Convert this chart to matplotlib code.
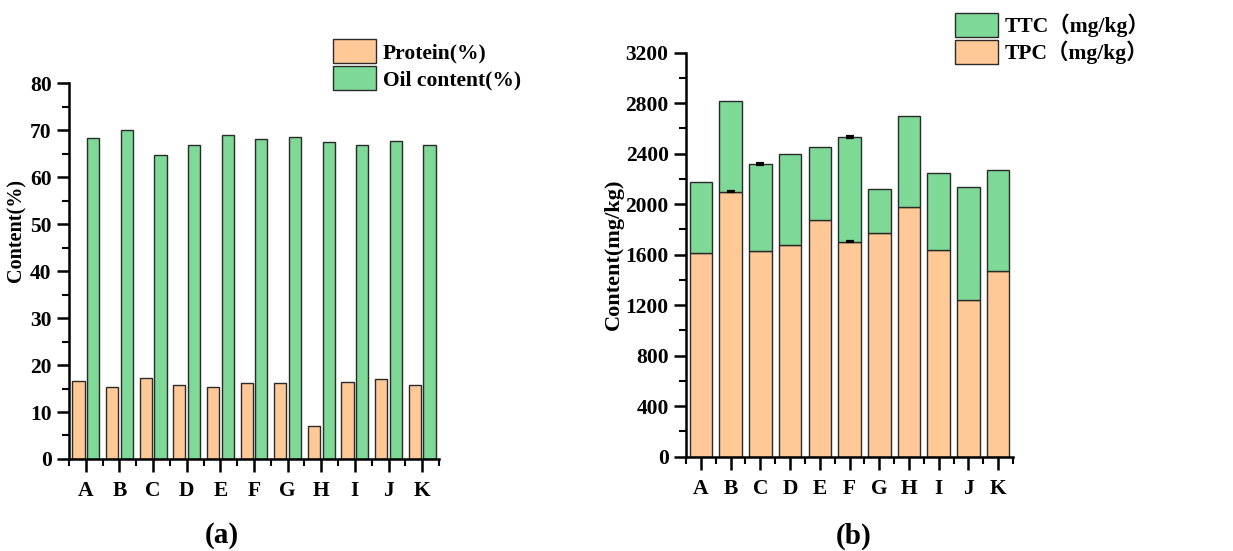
import matplotlib.pyplot as plt
from matplotlib.patches import Patch
from matplotlib.ticker import MultipleLocator
import numpy as np

samples = ['A', 'B', 'C', 'D', 'E', 'F', 'G', 'H', 'I', 'J', 'K']
protein = [16.7, 15.4, 17.2, 15.7, 15.4, 16.1, 16.2, 7.1, 16.4, 17.0, 15.7]
oil = [68.3, 70.0, 64.7, 66.9, 68.9, 68.1, 68.6, 67.4, 66.9, 67.8, 66.9]

tpc = [1610, 2100, 1628, 1678, 1878, 1704, 1768, 1975, 1640, 1245, 1468]
ttc = [565, 715, 692, 723, 578, 830, 355, 722, 605, 892, 803]
tpc_err = [0, 5, 0, 0, 0, 6, 0, 0, 0, 0, 0]
ttc_err = [0, 0, 6, 0, 0, 6, 0, 0, 0, 0, 0]

orange = '#FFC997'
green = '#7ED896'
edge = '#2a2a2a'

plt.rcParams['font.family'] = ['Liberation Serif', 'Noto Sans CJK SC']
plt.rcParams['font.weight'] = 'bold'

fig = plt.figure(figsize=(12.33, 5.51), dpi=100)
x = np.arange(len(samples))


def style_axis(ax):
    for s in ['top', 'right']:
        ax.spines[s].set_visible(False)
    for s in ['left', 'bottom']:
        ax.spines[s].set_linewidth(1.8)
    ax.tick_params(which='major', direction='out', length=9, width=1.8, labelsize=15.5)
    ax.tick_params(which='minor', direction='out', length=5, width=1.5)
    ax.tick_params(axis='x', pad=7)
    ax.set_xticks(x)
    ax.set_xticklabels(samples, fontweight='bold')
    ax.xaxis.set_minor_locator(MultipleLocator(1, offset=0.5))
    ax.set_xlim(-0.5, 10.5)
    for lab in ax.get_yticklabels():
        lab.set_fontweight('bold')


leg_kw = dict(loc='upper left', frameon=False, prop={'size': 15.5, 'weight': 'bold'},
              handlelength=2.0, handleheight=1.3, handletextpad=0.3,
              labelspacing=0.15, borderaxespad=0, borderpad=0)

# (a)
ax1 = fig.add_axes([0.056, 0.167, 0.300, 0.682])
w = 0.36
ax1.bar(x - 0.22, protein, w, color=orange, edgecolor=edge, linewidth=1)
ax1.bar(x + 0.22, oil, w, color=green, edgecolor=edge, linewidth=1)
ax1.set_ylim(0, 80)
ax1.yaxis.set_major_locator(MultipleLocator(10))
ax1.yaxis.set_minor_locator(MultipleLocator(5))
style_axis(ax1)
ax1.set_ylabel('Content(%)', fontsize=14.5, fontweight='bold')
ax1.yaxis.set_label_coords(-0.115, 0.609)
h1 = [Patch(facecolor=orange, edgecolor=edge, label='Protein(%)'),
      Patch(facecolor=green, edgecolor=edge, label='Oil content(%)')]
ax1.legend(handles=h1, bbox_to_anchor=(0.714, 1.117), **leg_kw)
fig.text(0.180, 0.029, '(a)', fontsize=21, fontweight='bold', ha='center', va='center')

# (b)
ax2 = fig.add_axes([0.5564, 0.1711, 0.2652, 0.7333])
w2 = 0.76
ax2.bar(x, tpc, w2, color=orange, edgecolor=edge, linewidth=1)
ax2.bar(x, ttc, w2, bottom=tpc, color=green, edgecolor=edge, linewidth=1)
tops = np.array(tpc) + np.array(ttc)
for i in range(len(samples)):
    if tpc_err[i] > 0:
        ax2.errorbar(x[i], tpc[i], yerr=tpc_err[i], color='black', capsize=3, elinewidth=1, capthick=1.6)
    if ttc_err[i] > 0:
        ax2.errorbar(x[i], tops[i], yerr=ttc_err[i], color='black', capsize=3, elinewidth=1, capthick=1.6)
ax2.set_ylim(0, 3200)
ax2.yaxis.set_major_locator(MultipleLocator(400))
ax2.yaxis.set_minor_locator(MultipleLocator(200))
style_axis(ax2)
ax2.set_ylabel('Content(mg/kg)', fontsize=16, fontweight='bold')
ax2.yaxis.set_label_coords(-0.19, 0.5)
h2 = [Patch(facecolor=green, edgecolor=edge, label='TTC（mg/kg）'),
      Patch(facecolor=orange, edgecolor=edge, label='TPC（mg/kg）')]
ax2.legend(handles=h2, bbox_to_anchor=(0.823, 1.098), **leg_kw)
fig.text(0.692, 0.027, '(b)', fontsize=21, fontweight='bold', ha='center', va='center')

fig.savefig('out.png', dpi=100)
